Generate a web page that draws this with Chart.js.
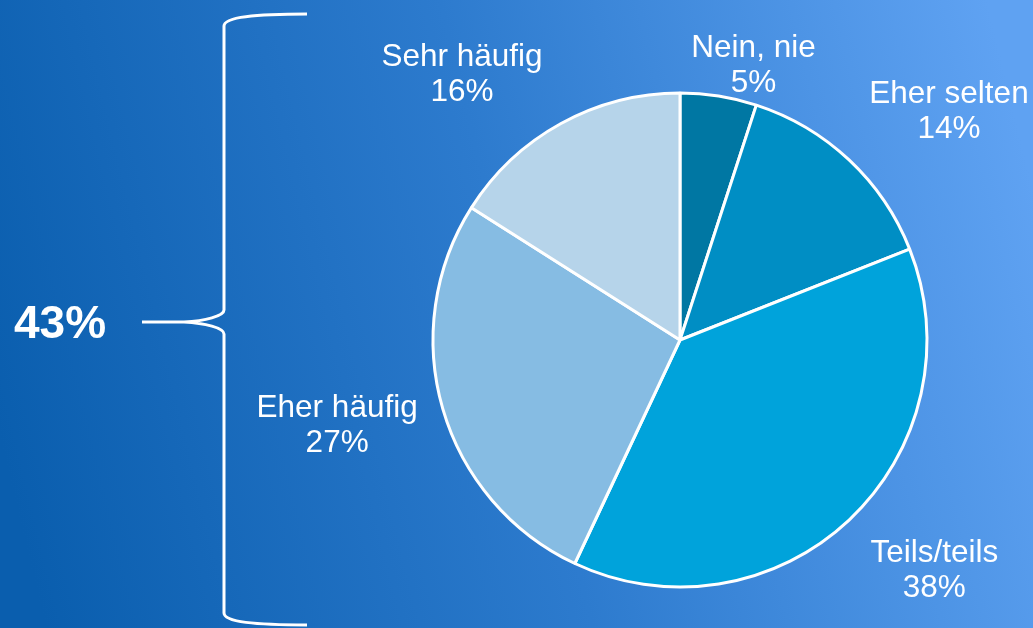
<!DOCTYPE html>
<html>
<head>
<meta charset="utf-8">
<script src="https://cdn.jsdelivr.net/npm/chart.js@4"></script>
<style>
html,body{margin:0;padding:0;background:#2a78cc;}
#wrap{position:relative;width:1033px;height:628px;}
</style>
</head>
<body>
<div id="wrap"><canvas id="c" width="1033" height="628"></canvas></div>
<script>
const categories = ["Nein, nie", "Eher selten", "Teils/teils", "Eher häufig", "Sehr häufig"];
const values = [5, 14, 38, 27, 16];
const valueLabels = ["5%", "14%", "38%", "27%", "16%"];
const groupTotalLabel = "43%";

const colors = ["#0077a3", "#008ec4", "#00a3db", "#86bce3", "#b6d4ea"];
// label placement tweaks (radius factor, angle shift in degrees) relative to slice middle
const labelRadius = [1.15, 1.43, 1.39, 1.43, 1.39];
const labelShift = [6, 6.4, -4.6, 2.3, -10.6];

const bgPlugin = {
  id: 'bg',
  beforeDraw(chart) {
    const ctx = chart.ctx, w = chart.width, h = chart.height;
    const g = ctx.createLinearGradient(0, h * 0.7, w, h * 0.3);
    g.addColorStop(0, '#0a5eae');
    g.addColorStop(0.5, '#2d7bce');
    g.addColorStop(1, '#5fa2f2');
    ctx.save();
    ctx.fillStyle = g;
    ctx.fillRect(0, 0, w, h);
    ctx.restore();
  }
};

const labelPlugin = {
  id: 'labels',
  afterDatasetsDraw(chart) {
    const ctx = chart.ctx;
    const meta = chart.getDatasetMeta(0);
    ctx.save();
    ctx.fillStyle = '#ffffff';
    ctx.textAlign = 'center';
    ctx.textBaseline = 'middle';
    ctx.font = '31.5px "Liberation Sans", Arial, sans-serif';
    meta.data.forEach((arc, i) => {
      const p = arc.getProps(['x', 'y', 'startAngle', 'endAngle', 'outerRadius'], true);
      const mid = (p.startAngle + p.endAngle) / 2 + labelShift[i] * Math.PI / 180;
      const r = p.outerRadius * labelRadius[i];
      const x = p.x + Math.cos(mid) * r;
      const y = p.y + Math.sin(mid) * r;
      ctx.fillText(categories[i], x, y - 17);
      ctx.fillText(valueLabels[i], x, y + 18);
    });
    ctx.restore();
  }
};

const bracePlugin = {
  id: 'brace',
  afterDraw(chart) {
    const ctx = chart.ctx;
    const meta = chart.getDatasetMeta(0);
    const cy = meta.data[0].y - 18;
    const top = 14, bottom = 625, xv = 224, xe = 307, tip = 142;
    ctx.save();
    ctx.strokeStyle = '#ffffff';
    ctx.lineWidth = 3;
    ctx.beginPath();
    ctx.moveTo(xe, top);
    ctx.bezierCurveTo(255, top, xv, top + 3, xv, top + 12);
    ctx.lineTo(xv, cy - 12);
    ctx.bezierCurveTo(xv, cy - 6, 205, cy - 1, tip + 42, cy);
    ctx.lineTo(tip, cy);
    ctx.moveTo(tip + 42, cy);
    ctx.bezierCurveTo(205, cy + 1, xv, cy + 6, xv, cy + 12);
    ctx.lineTo(xv, bottom - 12);
    ctx.bezierCurveTo(xv, bottom - 3, 255, bottom, xe, bottom);
    ctx.stroke();
    ctx.fillStyle = '#ffffff';
    ctx.font = 'bold 46px "Liberation Sans", Arial, sans-serif';
    ctx.textAlign = 'left';
    ctx.textBaseline = 'middle';
    ctx.fillText(groupTotalLabel, 14, cy + 3);
    ctx.restore();
  }
};

new Chart(document.getElementById('c'), {
  type: 'pie',
  data: {
    labels: categories,
    datasets: [{
      data: values,
      backgroundColor: colors,
      borderColor: '#ffffff',
      borderWidth: 3
    }]
  },
  options: {
    responsive: false,
    animation: false,
    radius: 247,
    layout: { padding: { left: 360, right: 33, top: 60, bottom: 8 } },
    plugins: {
      legend: { display: false },
      tooltip: { enabled: false }
    }
  },
  plugins: [bgPlugin, labelPlugin, bracePlugin]
});
</script>
</body>
</html>
